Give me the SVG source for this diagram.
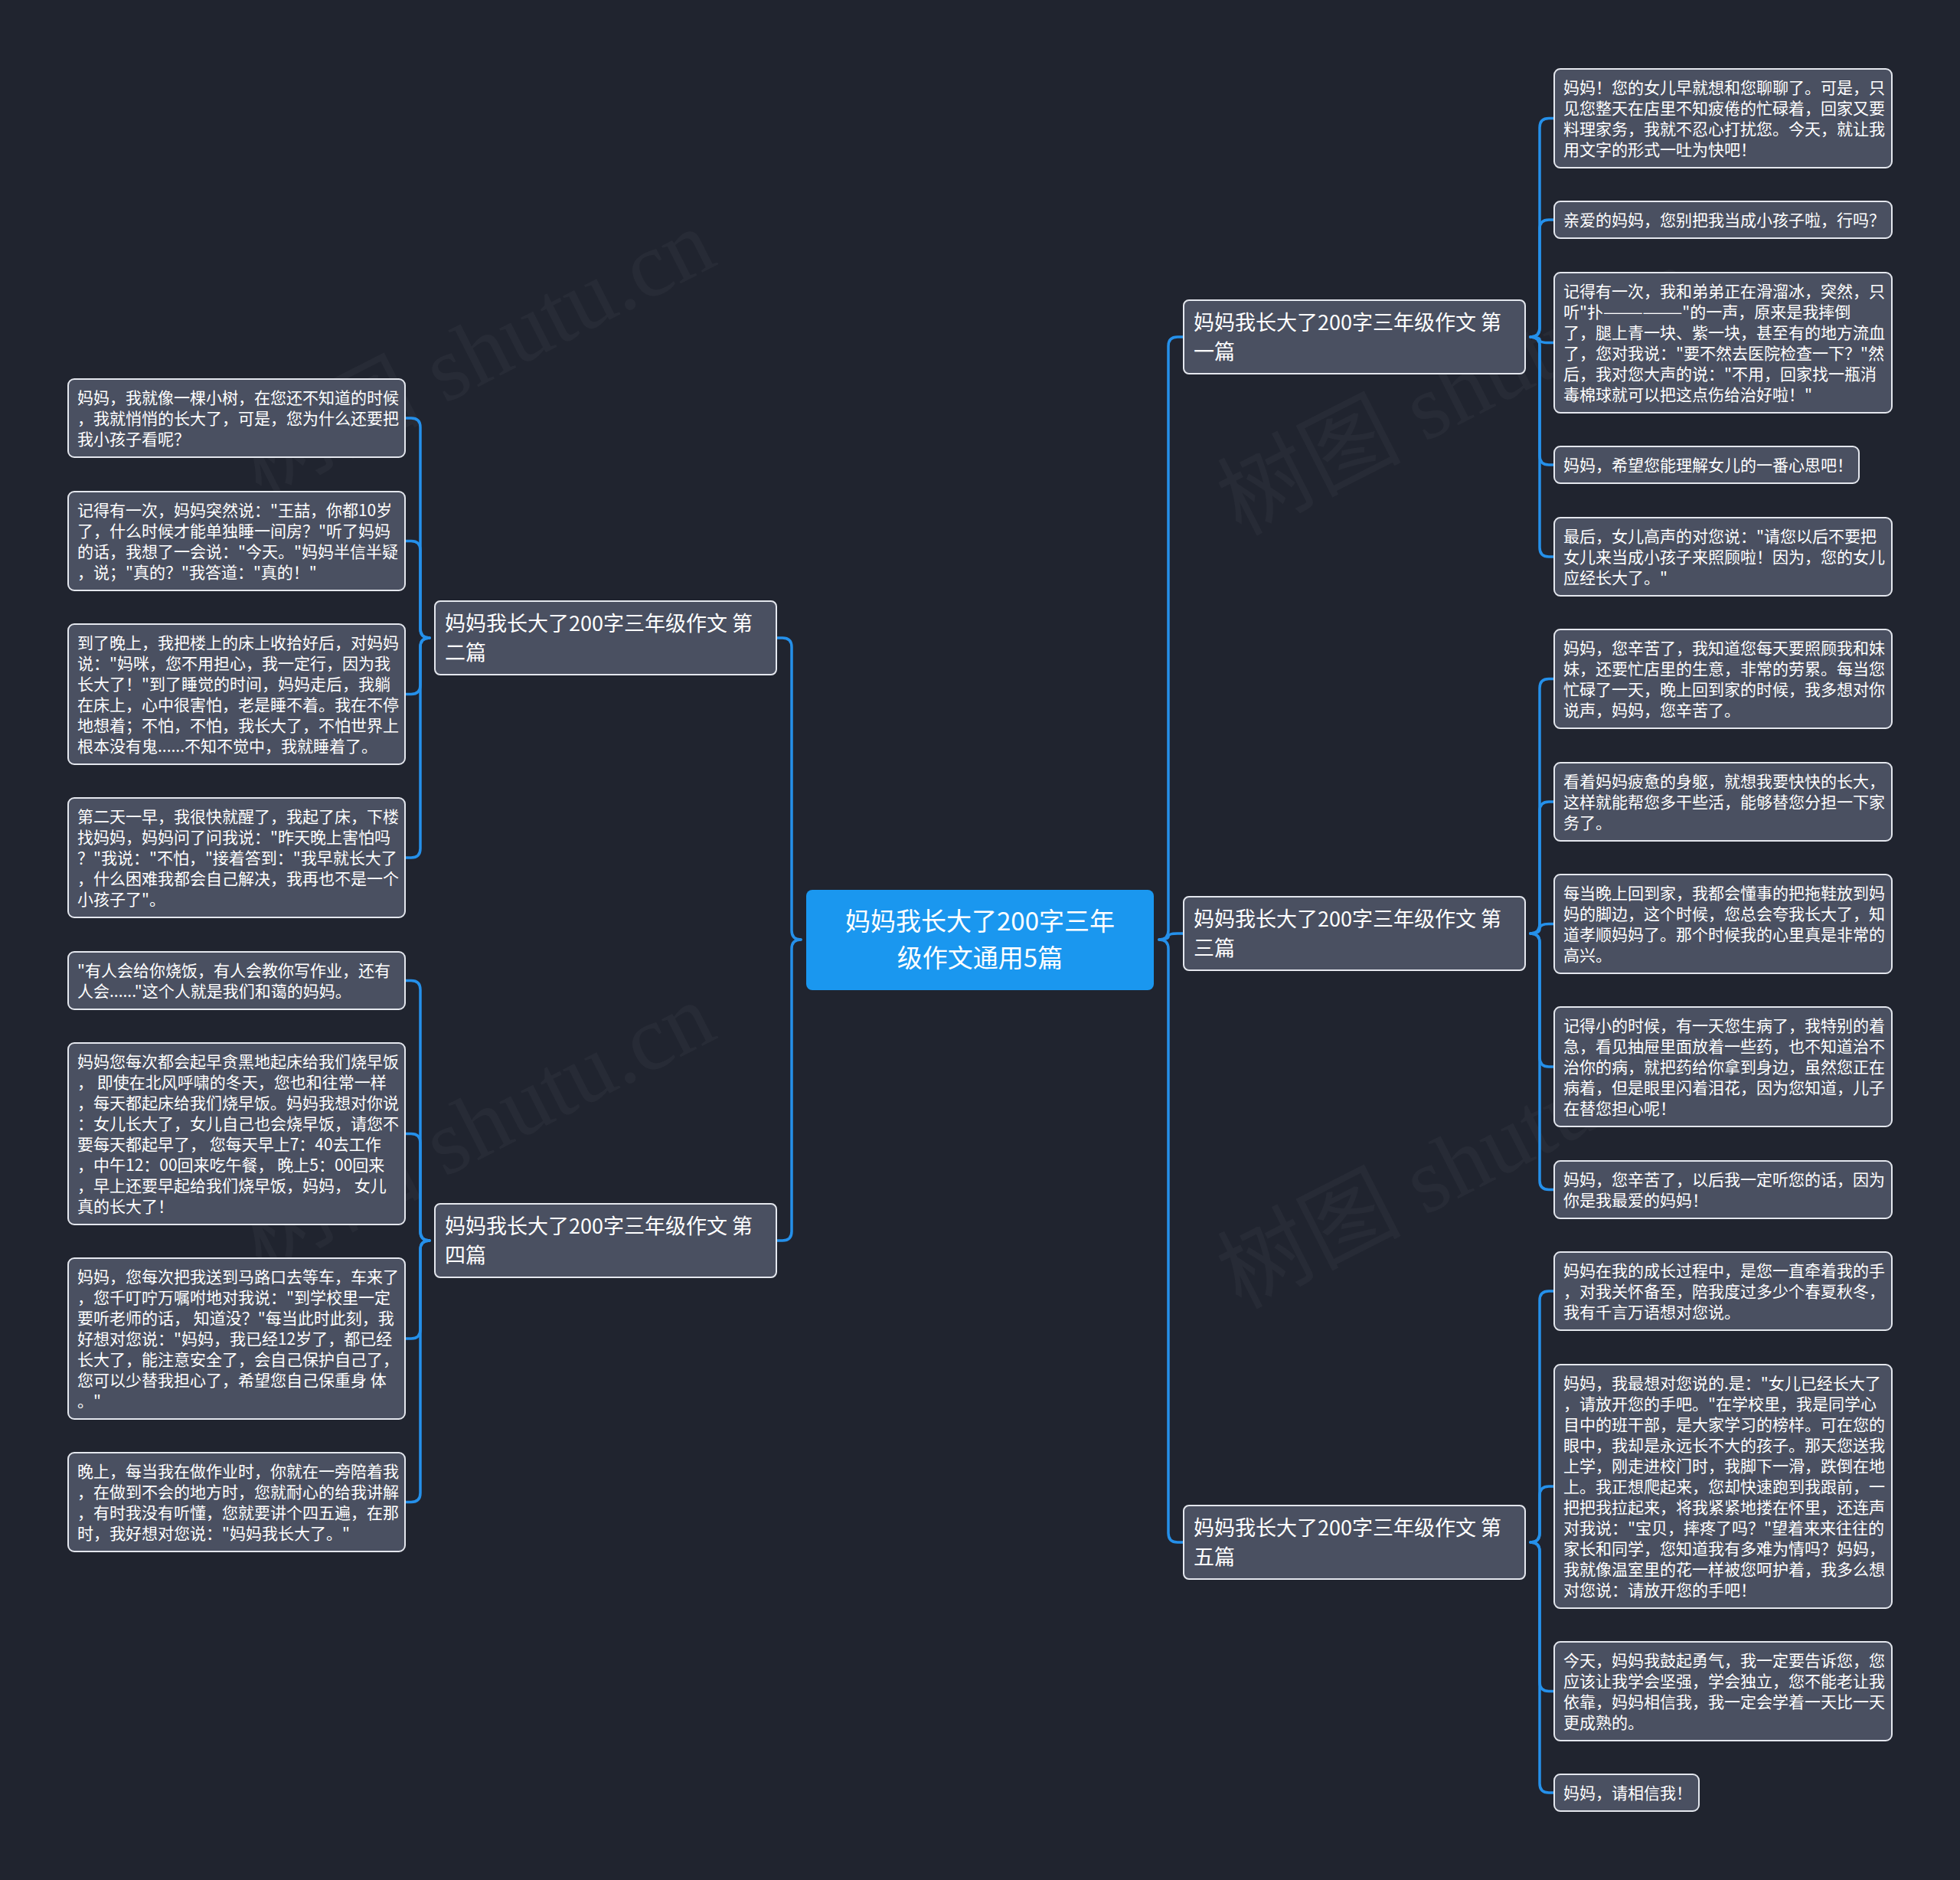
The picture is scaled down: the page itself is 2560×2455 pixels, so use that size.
<svg xmlns="http://www.w3.org/2000/svg" width="2560" height="2455" viewBox="0 0 2560 2455">
<style>
.bg{fill:#20242f}
.wm{font-family:"Liberation Serif","Noto Sans CJK SC",serif;font-size:120px;fill:#ffffff;opacity:0.03}
.conn path{fill:none;stroke:#2590ea;stroke-width:3.5;stroke-linecap:round;stroke-linejoin:round}
.leaf rect,.branch rect{fill:#4a5061;stroke:#e4e7ee;stroke-width:2}
.leaf text{font-family:"Noto Sans CJK SC","Noto Sans",sans-serif;font-size:21px;fill:#ffffff}
.branch text{font-family:"Noto Sans CJK SC","Noto Sans",sans-serif;font-size:27px;fill:#ffffff}
.center rect{fill:#1a97ef}
.center text{font-family:"Noto Sans CJK SC","Noto Sans",sans-serif;font-size:33px;fill:#ffffff;text-anchor:middle}
</style>
<rect class="bg" x="0" y="0" width="2560" height="2455"/>
<g id="watermarks">
<text class="wm" transform="translate(340,650) rotate(-27)">树图 shutu.cn</text>
<text class="wm" transform="translate(1620,700) rotate(-27)">树图 shutu.cn</text>
<text class="wm" transform="translate(340,1660) rotate(-27)">树图 shutu.cn</text>
<text class="wm" transform="translate(1620,1710) rotate(-27)">树图 shutu.cn</text>
</g>
<g id="connectors" class="conn">
<path d="M1514,1227 Q1526,1227 1526,1215 L1526,452 Q1526,440 1538,440 L1546,440"/>
<path d="M1514,1227 Q1526,1227 1526,1223 Q1526,1219 1538,1219 L1546,1219"/>
<path d="M1514,1227 Q1526,1227 1526,1239 L1526,2002 Q1526,2014 1538,2014 L1546,2014"/>
<path d="M1046,1227 Q1034,1227 1034,1215 L1034,845 Q1034,833 1022,833 L1014,833"/>
<path d="M1046,1227 Q1034,1227 1034,1239 L1034,1608 Q1034,1620 1022,1620 L1014,1620"/>
<path d="M1999,440 Q2011,440 2011,428 L2011,166.5 Q2011,154.5 2023,154.5 L2030,154.5"/>
<path d="M1999,440 Q2011,440 2011,428 L2011,299 Q2011,287 2023,287 L2030,287"/>
<path d="M1999,440 Q2011,440 2011,443.75 Q2011,447.5 2023,447.5 L2030,447.5"/>
<path d="M1999,440 Q2011,440 2011,452 L2011,595 Q2011,607 2023,607 L2030,607"/>
<path d="M1999,440 Q2011,440 2011,452 L2011,715 Q2011,727 2023,727 L2030,727"/>
<path d="M1999,1219 Q2011,1219 2011,1207 L2011,898.5 Q2011,886.5 2023,886.5 L2030,886.5"/>
<path d="M1999,1219 Q2011,1219 2011,1207 L2011,1059 Q2011,1047 2023,1047 L2030,1047"/>
<path d="M1999,1219 Q2011,1219 2011,1212.75 Q2011,1206.5 2023,1206.5 L2030,1206.5"/>
<path d="M1999,1219 Q2011,1219 2011,1231 L2011,1381 Q2011,1393 2023,1393 L2030,1393"/>
<path d="M1999,1219 Q2011,1219 2011,1231 L2011,1541.5 Q2011,1553.5 2023,1553.5 L2030,1553.5"/>
<path d="M1999,2014 Q2011,2014 2011,2002 L2011,1698 Q2011,1686 2023,1686 L2030,1686"/>
<path d="M1999,2014 Q2011,2014 2011,2002 L2011,1953 Q2011,1941 2023,1941 L2030,1941"/>
<path d="M1999,2014 Q2011,2014 2011,2026 L2011,2196.5 Q2011,2208.5 2023,2208.5 L2030,2208.5"/>
<path d="M1999,2014 Q2011,2014 2011,2026 L2011,2329 Q2011,2341 2023,2341 L2030,2341"/>
<path d="M561,833 Q549,833 549,821 L549,558 Q549,546 537,546 L529,546"/>
<path d="M561,833 Q549,833 549,821 L549,718.5 Q549,706.5 537,706.5 L529,706.5"/>
<path d="M561,833 Q549,833 549,845 L549,894.5 Q549,906.5 537,906.5 L529,906.5"/>
<path d="M561,833 Q549,833 549,845 L549,1108 Q549,1120 537,1120 L529,1120"/>
<path d="M561,1620 Q549,1620 549,1608 L549,1292.5 Q549,1280.5 537,1280.5 L529,1280.5"/>
<path d="M561,1620 Q549,1620 549,1608 L549,1492.5 Q549,1480.5 537,1480.5 L529,1480.5"/>
<path d="M561,1620 Q549,1620 549,1632 L549,1736 Q549,1748 537,1748 L529,1748"/>
<path d="M561,1620 Q549,1620 549,1632 L549,1949.5 Q549,1961.5 537,1961.5 L529,1961.5"/>
</g>
<g id="root" class="center">
<rect x="1053" y="1162" width="454" height="131" rx="8"/>
<text><tspan x="1280" y="1215">妈妈我长大了200字三年</tspan><tspan x="1280" y="1263">级作文通用5篇</tspan></text>
</g>
<g id="b1" class="branch">
<rect x="1546" y="392" width="446" height="96" rx="7"/>
<text><tspan x="1559" y="431">妈妈我长大了200字三年级作文 第</tspan><tspan x="1559" y="468.5">一篇</tspan></text>
</g>
<g id="b3" class="branch">
<rect x="1546" y="1171" width="446" height="96" rx="7"/>
<text><tspan x="1559" y="1210">妈妈我长大了200字三年级作文 第</tspan><tspan x="1559" y="1247.5">三篇</tspan></text>
</g>
<g id="b5" class="branch">
<rect x="1546" y="1966" width="446" height="96" rx="7"/>
<text><tspan x="1559" y="2005">妈妈我长大了200字三年级作文 第</tspan><tspan x="1559" y="2042.5">五篇</tspan></text>
</g>
<g id="b2" class="branch">
<rect x="568" y="785" width="446" height="96" rx="7"/>
<text><tspan x="581" y="824">妈妈我长大了200字三年级作文 第</tspan><tspan x="581" y="861.5">二篇</tspan></text>
</g>
<g id="b4" class="branch">
<rect x="568" y="1572" width="446" height="96" rx="7"/>
<text><tspan x="581" y="1611">妈妈我长大了200字三年级作文 第</tspan><tspan x="581" y="1648.5">四篇</tspan></text>
</g>
<g id="r1" class="leaf">
<rect x="2030" y="90" width="441" height="129" rx="8"/>
<text><tspan x="2042" y="122">妈妈！您的女儿早就想和您聊聊了。可是，只</tspan><tspan x="2042" y="149">见您整天在店里不知疲倦的忙碌着，回家又要</tspan><tspan x="2042" y="176">料理家务，我就不忍心打扰您。今天，就让我</tspan><tspan x="2042" y="203">用文字的形式一吐为快吧！</tspan></text>
</g>
<g id="r2" class="leaf">
<rect x="2030" y="263" width="441" height="48" rx="8"/>
<text><tspan x="2042" y="295">亲爱的妈妈，您别把我当成小孩子啦，行吗？</tspan></text>
</g>
<g id="r3" class="leaf">
<rect x="2030" y="356" width="441" height="183" rx="8"/>
<text><tspan x="2042" y="388">记得有一次，我和弟弟正在滑溜冰，突然，只</tspan><tspan x="2042" y="415">听"扑——————"的一声，原来是我摔倒</tspan><tspan x="2042" y="442">了，腿上青一块、紫一块，甚至有的地方流血</tspan><tspan x="2042" y="469">了，您对我说："要不然去医院检查一下？"然</tspan><tspan x="2042" y="496">后，我对您大声的说："不用，回家找一瓶消</tspan><tspan x="2042" y="523">毒棉球就可以把这点伤给治好啦！"</tspan></text>
</g>
<g id="r4" class="leaf">
<rect x="2030" y="583" width="398" height="48" rx="8"/>
<text><tspan x="2042" y="615">妈妈，希望您能理解女儿的一番心思吧！</tspan></text>
</g>
<g id="r5" class="leaf">
<rect x="2030" y="676" width="441" height="102" rx="8"/>
<text><tspan x="2042" y="708">最后，女儿高声的对您说："请您以后不要把</tspan><tspan x="2042" y="735">女儿来当成小孩子来照顾啦！因为，您的女儿</tspan><tspan x="2042" y="762">应经长大了。"</tspan></text>
</g>
<g id="r6" class="leaf">
<rect x="2030" y="822" width="441" height="129" rx="8"/>
<text><tspan x="2042" y="854">妈妈，您辛苦了，我知道您每天要照顾我和妹</tspan><tspan x="2042" y="881">妹，还要忙店里的生意，非常的劳累。每当您</tspan><tspan x="2042" y="908">忙碌了一天，晚上回到家的时候，我多想对你</tspan><tspan x="2042" y="935">说声，妈妈，您辛苦了。</tspan></text>
</g>
<g id="r7" class="leaf">
<rect x="2030" y="996" width="441" height="102" rx="8"/>
<text><tspan x="2042" y="1028">看着妈妈疲惫的身躯，就想我要快快的长大，</tspan><tspan x="2042" y="1055">这样就能帮您多干些活，能够替您分担一下家</tspan><tspan x="2042" y="1082">务了。</tspan></text>
</g>
<g id="r8" class="leaf">
<rect x="2030" y="1142" width="441" height="129" rx="8"/>
<text><tspan x="2042" y="1174">每当晚上回到家，我都会懂事的把拖鞋放到妈</tspan><tspan x="2042" y="1201">妈的脚边，这个时候，您总会夸我长大了，知</tspan><tspan x="2042" y="1228">道孝顺妈妈了。那个时候我的心里真是非常的</tspan><tspan x="2042" y="1255">高兴。</tspan></text>
</g>
<g id="r9" class="leaf">
<rect x="2030" y="1315" width="441" height="156" rx="8"/>
<text><tspan x="2042" y="1347">记得小的时候，有一天您生病了，我特别的着</tspan><tspan x="2042" y="1374">急，看见抽屉里面放着一些药，也不知道治不</tspan><tspan x="2042" y="1401">治你的病，就把药给你拿到身边，虽然您正在</tspan><tspan x="2042" y="1428">病着，但是眼里闪着泪花，因为您知道，儿子</tspan><tspan x="2042" y="1455">在替您担心呢！</tspan></text>
</g>
<g id="r10" class="leaf">
<rect x="2030" y="1516" width="441" height="75" rx="8"/>
<text><tspan x="2042" y="1548">妈妈，您辛苦了，以后我一定听您的话，因为</tspan><tspan x="2042" y="1575">你是我最爱的妈妈！</tspan></text>
</g>
<g id="r11" class="leaf">
<rect x="2030" y="1635" width="441" height="102" rx="8"/>
<text><tspan x="2042" y="1667">妈妈在我的成长过程中，是您一直牵着我的手</tspan><tspan x="2042" y="1694">，对我关怀备至，陪我度过多少个春夏秋冬，</tspan><tspan x="2042" y="1721">我有千言万语想对您说。</tspan></text>
</g>
<g id="r12" class="leaf">
<rect x="2030" y="1782" width="441" height="318" rx="8"/>
<text><tspan x="2042" y="1814">妈妈，我最想对您说的.是："女儿已经长大了</tspan><tspan x="2042" y="1841">，请放开您的手吧。"在学校里，我是同学心</tspan><tspan x="2042" y="1868">目中的班干部，是大家学习的榜样。可在您的</tspan><tspan x="2042" y="1895">眼中，我却是永远长不大的孩子。那天您送我</tspan><tspan x="2042" y="1922">上学，刚走进校门时，我脚下一滑，跌倒在地</tspan><tspan x="2042" y="1949">上。我正想爬起来，您却快速跑到我跟前，一</tspan><tspan x="2042" y="1976">把把我拉起来，将我紧紧地搂在怀里，还连声</tspan><tspan x="2042" y="2003">对我说："宝贝，摔疼了吗？"望着来来往往的</tspan><tspan x="2042" y="2030">家长和同学，您知道我有多难为情吗？妈妈，</tspan><tspan x="2042" y="2057">我就像温室里的花一样被您呵护着，我多么想</tspan><tspan x="2042" y="2084">对您说：请放开您的手吧！</tspan></text>
</g>
<g id="r13" class="leaf">
<rect x="2030" y="2144" width="441" height="129" rx="8"/>
<text><tspan x="2042" y="2176">今天，妈妈我鼓起勇气，我一定要告诉您，您</tspan><tspan x="2042" y="2203">应该让我学会坚强，学会独立，您不能老让我</tspan><tspan x="2042" y="2230">依靠，妈妈相信我，我一定会学着一天比一天</tspan><tspan x="2042" y="2257">更成熟的。</tspan></text>
</g>
<g id="r14" class="leaf">
<rect x="2030" y="2317" width="189" height="48" rx="8"/>
<text><tspan x="2042" y="2349">妈妈，请相信我！</tspan></text>
</g>
<g id="l1" class="leaf">
<rect x="89" y="495" width="440" height="102" rx="8"/>
<text><tspan x="101" y="527">妈妈，我就像一棵小树，在您还不知道的时候</tspan><tspan x="101" y="554">，我就悄悄的长大了，可是，您为什么还要把</tspan><tspan x="101" y="581">我小孩子看呢？</tspan></text>
</g>
<g id="l2" class="leaf">
<rect x="89" y="642" width="440" height="129" rx="8"/>
<text><tspan x="101" y="674">记得有一次，妈妈突然说："王喆，你都10岁</tspan><tspan x="101" y="701">了，什么时候才能单独睡一间房？"听了妈妈</tspan><tspan x="101" y="728">的话，我想了一会说："今天。"妈妈半信半疑</tspan><tspan x="101" y="755">，说；"真的？"我答道："真的！"</tspan></text>
</g>
<g id="l3" class="leaf">
<rect x="89" y="815" width="440" height="183" rx="8"/>
<text><tspan x="101" y="847">到了晚上，我把楼上的床上收拾好后，对妈妈</tspan><tspan x="101" y="874">说："妈咪，您不用担心，我一定行，因为我</tspan><tspan x="101" y="901">长大了！"到了睡觉的时间，妈妈走后，我躺</tspan><tspan x="101" y="928">在床上，心中很害怕，老是睡不着。我在不停</tspan><tspan x="101" y="955">地想着；不怕，不怕，我长大了，不怕世界上</tspan><tspan x="101" y="982">根本没有鬼......不知不觉中，我就睡着了。</tspan></text>
</g>
<g id="l4" class="leaf">
<rect x="89" y="1042" width="440" height="156" rx="8"/>
<text><tspan x="101" y="1074">第二天一早，我很快就醒了，我起了床，下楼</tspan><tspan x="101" y="1101">找妈妈，妈妈问了问我说："昨天晚上害怕吗</tspan><tspan x="101" y="1128">？"我说："不怕，"接着答到："我早就长大了</tspan><tspan x="101" y="1155">，什么困难我都会自己解决，我再也不是一个</tspan><tspan x="101" y="1182">小孩子了"。</tspan></text>
</g>
<g id="l5" class="leaf">
<rect x="89" y="1243" width="440" height="75" rx="8"/>
<text><tspan x="101" y="1275">"有人会给你烧饭，有人会教你写作业，还有</tspan><tspan x="101" y="1302">人会......"这个人就是我们和蔼的妈妈。</tspan></text>
</g>
<g id="l6" class="leaf">
<rect x="89" y="1362" width="440" height="237" rx="8"/>
<text xml:space="preserve"><tspan x="101" y="1394">妈妈您每次都会起早贪黑地起床给我们烧早饭</tspan><tspan x="101" y="1421">， 即使在北风呼啸的冬天，您也和往常一样</tspan><tspan x="101" y="1448">，每天都起床给我们烧早饭。妈妈我想对你说</tspan><tspan x="101" y="1475">：女儿长大了，女儿自己也会烧早饭，请您不</tspan><tspan x="101" y="1502">要每天都起早了， 您每天早上7：40去工作</tspan><tspan x="101" y="1529">，中午12：00回来吃午餐， 晚上5：00回来</tspan><tspan x="101" y="1556">，早上还要早起给我们烧早饭，妈妈， 女儿</tspan><tspan x="101" y="1583">真的长大了！</tspan></text>
</g>
<g id="l7" class="leaf">
<rect x="89" y="1643" width="440" height="210" rx="8"/>
<text xml:space="preserve"><tspan x="101" y="1675">妈妈，您每次把我送到马路口去等车，车来了</tspan><tspan x="101" y="1702">，您千叮咛万嘱咐地对我说："到学校里一定</tspan><tspan x="101" y="1729">要听老师的话， 知道没？"每当此时此刻，我</tspan><tspan x="101" y="1756">好想对您说："妈妈，我已经12岁了，都已经</tspan><tspan x="101" y="1783">长大了，能注意安全了，会自己保护自己了，</tspan><tspan x="101" y="1810">您可以少替我担心了，希望您自己保重身 体</tspan><tspan x="101" y="1837">。"</tspan></text>
</g>
<g id="l8" class="leaf">
<rect x="89" y="1897" width="440" height="129" rx="8"/>
<text><tspan x="101" y="1929">晚上，每当我在做作业时，你就在一旁陪着我</tspan><tspan x="101" y="1956">，在做到不会的地方时，您就耐心的给我讲解</tspan><tspan x="101" y="1983">，有时我没有听懂，您就要讲个四五遍，在那</tspan><tspan x="101" y="2010">时，我好想对您说："妈妈我长大了。"</tspan></text>
</g>
</svg>
